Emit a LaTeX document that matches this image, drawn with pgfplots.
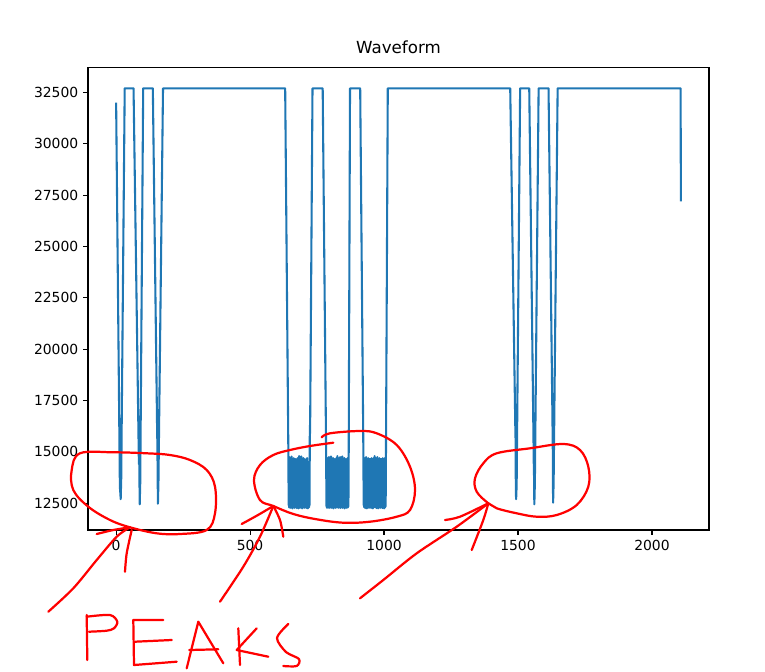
\documentclass[border=0pt]{standalone}
\usepackage{pgfplots}
\pgfplotsset{compat=1.18}
\usepackage{fontspec}
\setmainfont{DejaVu Sans}
\definecolor{mplblue}{HTML}{1F77B4}

\begin{document}
\begin{tikzpicture}
% page frame: 765 x 671 px, 1 px = 0.72pt, origin at the axis' lower left corner
\begin{scope}[shift={(-63.36pt,381.6pt)},x=0.72pt,y=-0.72pt]
\useasboundingbox (0,0) rectangle (765,671);
\end{scope}

\begin{axis}[
  at={(0pt,0pt)}, anchor=south west,
  scale only axis,
  width=447.12pt, height=333.1pt,
  xmin=-105, xmax=2213,
  ymin=11200, ymax=33720,
  xtick={0,500,1000,1500,2000},
  ytick={12500,15000,17500,20000,22500,25000,27500,30000,32500},
  scaled y ticks=false, scaled x ticks=false,
  /pgf/number format/fixed,
  /pgf/number format/precision=0,
  /pgf/number format/1000 sep={},
  /pgf/number format/assume math mode=true,
  tick align=outside,
  xtick pos=bottom, ytick pos=left,
  major tick length=3.5pt,
  every tick/.style={black, line width=0.8pt},
  axis line style={line width=0.8pt},
  tick label style={font=\fontsize{10}{12}\selectfont},
  title={Waveform},
  title style={font=\fontsize{12}{14}\selectfont, yshift=0pt},
  clip=true,
]

\addplot[mplblue, line width=1.5pt, line join=round] coordinates {
(0,32000) (14,13300) (16,12950) (17,12700) (19,13700) (32,32700)
(65,32700) (85,14400) (86,15100) (88,12450) (90,13500) (101,32700)
(137,32700) (153,16100) (154,15400) (156,12480) (158,13600) (175,32700)
(631,32700)
(643,14800) (644,12400) (645,14450) (646,12300) (647,14750) (648,12350)
(649,14300) (650,12280) (651,14200) (652,12420) (653,14650) (654,12300)
(655,14780) (656,12350) (657,14300) (658,12250) (659,14200) (660,12400)
(661,14550) (662,12300) (663,14700) (664,12350) (665,14350) (666,12280)
(667,14250) (668,12420) (669,14650) (670,12300) (671,14400) (672,12350)
(673,14250) (674,12270) (675,14300) (676,12400) (677,14700) (678,12300)
(679,14350) (680,12250) (681,14500) (682,12400) (683,14800) (684,12350)
(685,14300) (686,12280) (687,14250) (688,12400) (689,14650) (690,12300)
(691,14780) (692,12350) (693,14300) (694,12250) (695,14200) (696,12400)
(697,14550) (698,12300) (699,14700) (700,12350) (701,14350) (702,12280)
(703,14250) (704,12420) (705,14650) (706,12300) (707,14400) (708,12350)
(709,14250) (710,12270) (711,14300) (712,12400) (713,14700) (714,12300)
(715,14350) (716,12250) (717,14500) (718,12400) (719,14300) (720,12300)
(721,14500) (722,12400)
(723,16300) (724,15900) (733,32700)
(771,32700)
(784,14800) (785,12350) (786,14300) (787,12280) (788,14700) (789,12400)
(790,14250) (791,12300) (792,14350) (793,12350) (794,14750) (795,12270)
(796,14300) (797,12400) (798,14200) (799,12300) (800,14600) (801,12350)
(802,14780) (803,12280) (804,14300) (805,12420) (806,14250) (807,12300)
(808,14550) (809,12350) (810,14700) (811,12250) (812,14300) (813,12400)
(814,14200) (815,12300) (816,14650) (817,12350) (818,14400) (819,12280)
(820,14250) (821,12420) (822,14700) (823,12300) (824,14400) (825,12350)
(826,14800) (827,12350) (828,14300) (829,12280) (830,14700) (831,12400)
(832,14250) (833,12300) (834,14350) (835,12350) (836,14750) (837,12270)
(838,14300) (839,12400) (840,14200) (841,12300) (842,14600) (843,12350)
(844,14780) (845,12280) (846,14300) (847,12420) (848,14250) (849,12300)
(850,14550) (851,12350) (852,14700) (853,12250) (854,14300) (855,12400)
(856,14200) (857,12300) (858,14650) (859,12350) (860,14400) (861,12280)
(862,14250) (863,12420) (864,14700) (865,12300) (866,14400) (867,12350)
(868,14500) (873,32700)
(911,32700)
(923,14800) (924,12400) (925,14350) (926,12300) (927,14700) (928,12350)
(929,14250) (930,12270) (931,14300) (932,12400) (933,14750) (934,12300)
(935,14350) (936,12250) (937,14200) (938,12400) (939,14600) (940,12300)
(941,14700) (942,12350) (943,14300) (944,12280) (945,14250) (946,12420)
(947,14650) (948,12300) (949,14400) (950,12350) (951,14250) (952,12270)
(953,14700) (954,12400) (955,14300) (956,12300) (957,14550) (958,12250)
(959,14350) (960,12400) (961,14700) (962,12300) (963,14400) (964,12350)
(965,14800) (966,12400) (967,14350) (968,12300) (969,14700) (970,12350)
(971,14250) (972,12270) (973,14300) (974,12400) (975,14750) (976,12300)
(977,14350) (978,12250) (979,14200) (980,12400) (981,14600) (982,12300)
(983,14700) (984,12350) (985,14300) (986,12280) (987,14250) (988,12420)
(989,14650) (990,12300) (991,14400) (992,12350) (993,14250) (994,12270)
(995,14700) (996,12400) (997,14300) (998,12300) (999,14550) (1000,12250)
(1001,14350) (1002,12400) (1003,14700) (1004,12300) (1005,14400) (1006,12350)
(1007,14500) (1014,32700)
(1471,32700) (1490,16200) (1491,15600) (1492,13150) (1493,12700) (1495,13400) (1508,32700)
(1542,32700) (1559,14400) (1560,13800) (1561,12450) (1563,13500) (1577,32700)
(1614,32700) (1629,16200) (1630,15000) (1631,12530) (1633,13500) (1648,32700)
(2107,32700) (2108,27200)
};
\end{axis}

% hand-drawn red marks, in picture pixels
\begin{scope}[shift={(-63.36pt,381.6pt)},x=0.72pt,y=-0.72pt,
  red, line width=1.6pt, line cap=round, line join=round]
% left loop and arrow
\draw plot[smooth cycle, tension=0.6] coordinates {
  (113.3,452.3) (146.7,453.3) (170,455) (190,460) (206.7,470) (215,486.7)
  (215,513.3) (206.7,530) (180,534) (156.7,533.3) (130,527.3) (110,520)
  (88.3,506.7) (73.3,490) (71.7,470) (80,453.3)};
\draw plot[smooth] coordinates {(130,527.3) (116.7,536.7) (96.7,560) (73.3,588.3) (48.3,611.7)};
\draw plot[smooth] coordinates {(96.7,534) (113.3,530) (130,527.3)};
\draw plot[smooth] coordinates {(131.7,530) (126.7,553.3) (125,571.7)};
% middle loop and arrow
\draw plot[smooth, tension=0.6] coordinates {
  (333.3,442.7) (310,446) (290,450) (273.3,455) (260,465) (254,480) (260,500)
  (273.3,506) (293.3,514) (316.7,519.3) (343.3,522.7) (370,521.7) (396.7,516.7)
  (410,510) (415,490) (410,466.7) (396.7,445) (376.7,433.3) (360,431) (330,433.3) (321.7,437.3)};
\draw plot[smooth] coordinates {(273.3,506) (260,536.7) (243.3,566.7) (220,601.7)};
\draw plot[smooth] coordinates {(241.7,524) (258,515) (273.3,506)};
\draw plot[smooth] coordinates {(273.3,506) (280,520) (283.3,536.7)};
% right loop and arrow
\draw plot[smooth cycle, tension=0.6] coordinates {
  (488.3,503.3) (476.7,491.7) (475,478.3) (483.3,463.3) (496.7,453.3) (530,448.3)
  (563.3,444) (580,450) (588.3,466.7) (588.3,486.7) (576.7,505) (556.7,515)
  (536.7,516.7) (516.7,513.3) (496.7,508.3)};
\draw plot[smooth] coordinates {(488.3,503.3) (456.7,526.7) (416.7,553.3) (383.3,580) (360,598.3)};
\draw plot[smooth] coordinates {(445,520) (460,516.7) (488.3,503.3)};
\draw plot[smooth] coordinates {(488.3,503.3) (483.3,520) (471.7,550)};
% PEAKS
\draw (87.3,660) -- (86.7,615);
\draw plot[smooth] coordinates {(86.7,616.7) (110,615) (117.3,621.7) (114,628.3) (106.7,630.7) (89,631.7)};
\draw (163.3,620) -- (133.3,620) -- (134,665) -- (176.7,661.7);
\draw (135,641.7) -- (171.7,640);
\draw (186.7,668.3) -- (198.3,621.7) -- (223.3,663.3);
\draw (189.3,650) -- (218.3,649.3);
\draw (238.3,628.3) -- (240,665);
\draw (256.7,628.3) -- (236.7,650) -- (268.3,656.7);
\draw plot[smooth] coordinates {(288.3,624) (277,638) (286,652) (299,659) (296.7,666) (283.3,666)};
\end{scope}
\end{tikzpicture}
\end{document}
